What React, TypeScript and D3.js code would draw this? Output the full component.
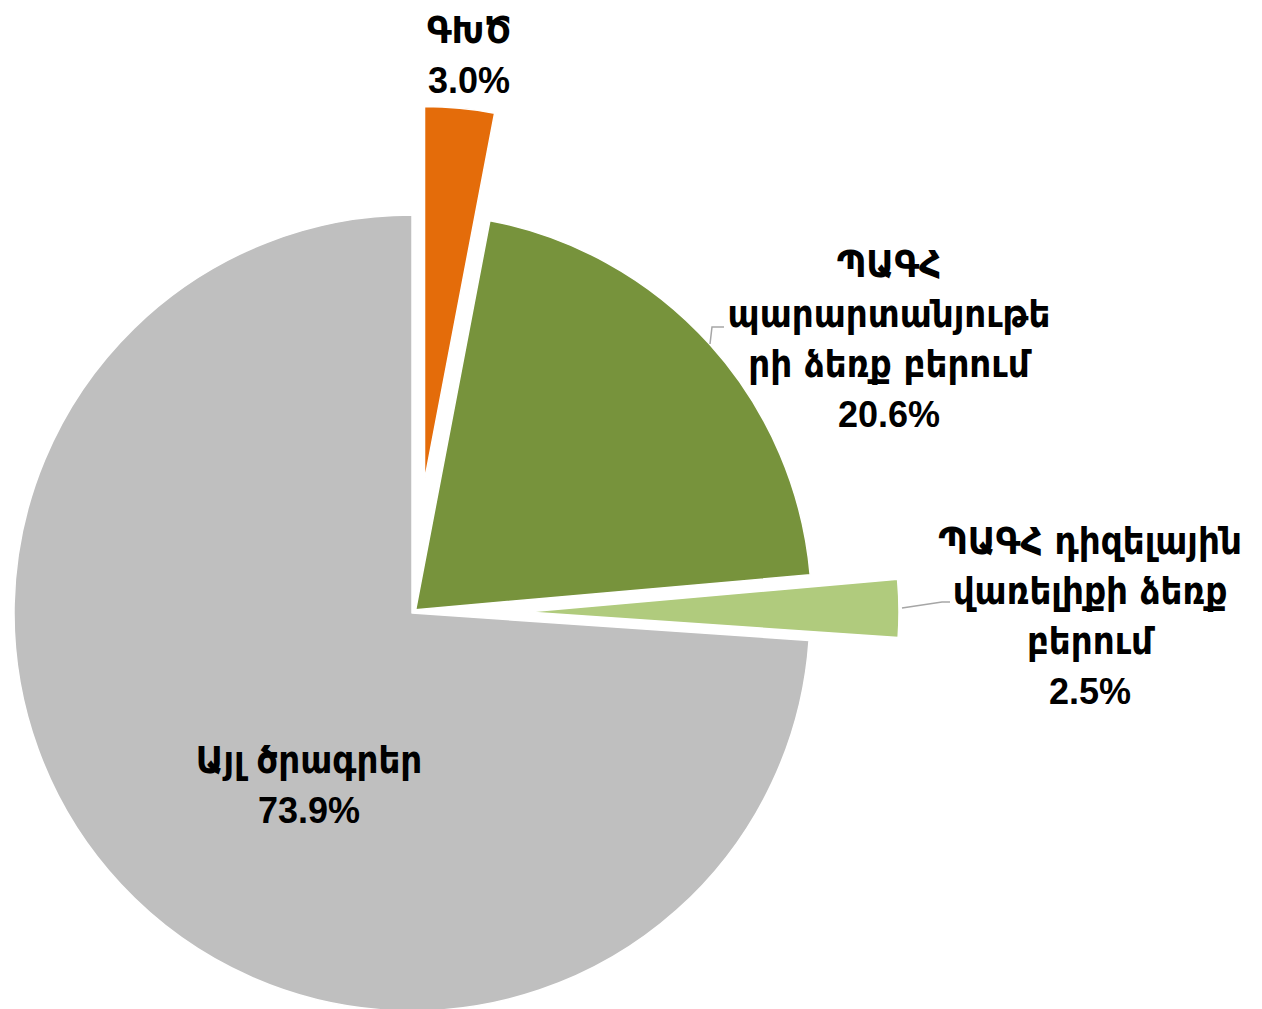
import React from "react";
import * as d3 from "d3";

const categories = [
  ["ԳԽԾ"],
  ["ՊԱԳՀ", "պարարտանյութե", "րի ձեռք բերում"],
  ["ՊԱԳՀ դիզելային", "վառելիքի ձեռք", "բերում"],
  ["Այլ ծրագրեր"],
];
const values = [3.0, 20.6, 2.5, 73.9];
const valueLabels = ["3.0%", "20.6%", "2.5%", "73.9%"];

const colors = ["#E46C0A", "#77933C", "#B0CB7D", "#BFBFBF"];
const radii = [374, 396, 372, 398];
const explode = [133, 5, 115, 0];
// label anchor: x center, first baseline
const labelPos = [
  { x: 469, y: 43 },
  { x: 889, y: 277 },
  { x: 1090, y: 554 },
  { x: 309, y: 773 },
];
const leaders: [number, number][][] = [
  [],
  [
    [710, 344],
    [712, 327],
    [724, 327],
  ],
  [
    [902, 608],
    [942, 602],
    [950, 602],
  ],
  [],
];

const W = 1262;
const H = 1009;
const cx = 412;
const cy = 613;
const lineH = 50;
const fontArm = "'DejaVu Sans Condensed', 'DejaVu Sans', sans-serif";
const fontNum = "'Liberation Sans', Arial, sans-serif";

export default function App() {
  const pie = d3
    .pie<number>()
    .sort(null)
    .startAngle(0)
    .endAngle(2 * Math.PI)
    .value((d) => d);
  const arcs = pie(values);

  return (
    <div style={{ position: "absolute", left: 0, top: 0 }}>
      <svg width={W} height={H} style={{ display: "block", background: "#fff" }}>
        <g transform={`translate(${cx},${cy})`}>
          {arcs.map((a, i) => {
            const mid = (a.startAngle + a.endAngle) / 2;
            const dx = Math.sin(mid) * explode[i];
            const dy = -Math.cos(mid) * explode[i];
            const path = d3.arc<d3.PieArcDatum<number>>().innerRadius(0).outerRadius(radii[i])(a) || "";
            return (
              <path
                key={i}
                d={path}
                transform={`translate(${dx},${dy})`}
                fill={colors[i]}
                stroke="#fff"
                strokeWidth={1.5}
                strokeLinejoin="round"
              />
            );
          })}
        </g>
        {leaders.map((pts, i) =>
          pts.length ? (
            <path
              key={"l" + i}
              d={d3.line()(pts) || ""}
              fill="none"
              stroke="#A6A6A6"
              strokeWidth={1.5}
            />
          ) : null
        )}
        {categories.map((lines, i) => {
          const all = [...lines, valueLabels[i]];
          return (
            <g key={"t" + i}>
              {all.map((s, j) => {
                const isNum = j === all.length - 1;
                return (
                  <text
                    key={j}
                    x={labelPos[i].x}
                    y={labelPos[i].y + j * lineH}
                    textAnchor="middle"
                    fontFamily={isNum ? fontNum : fontArm}
                    fontWeight="bold"
                    fontSize={isNum ? 36 : 38}
                    fill="#000"
                  >
                    {s}
                  </text>
                );
              })}
            </g>
          );
        })}
      </svg>
    </div>
  );
}
